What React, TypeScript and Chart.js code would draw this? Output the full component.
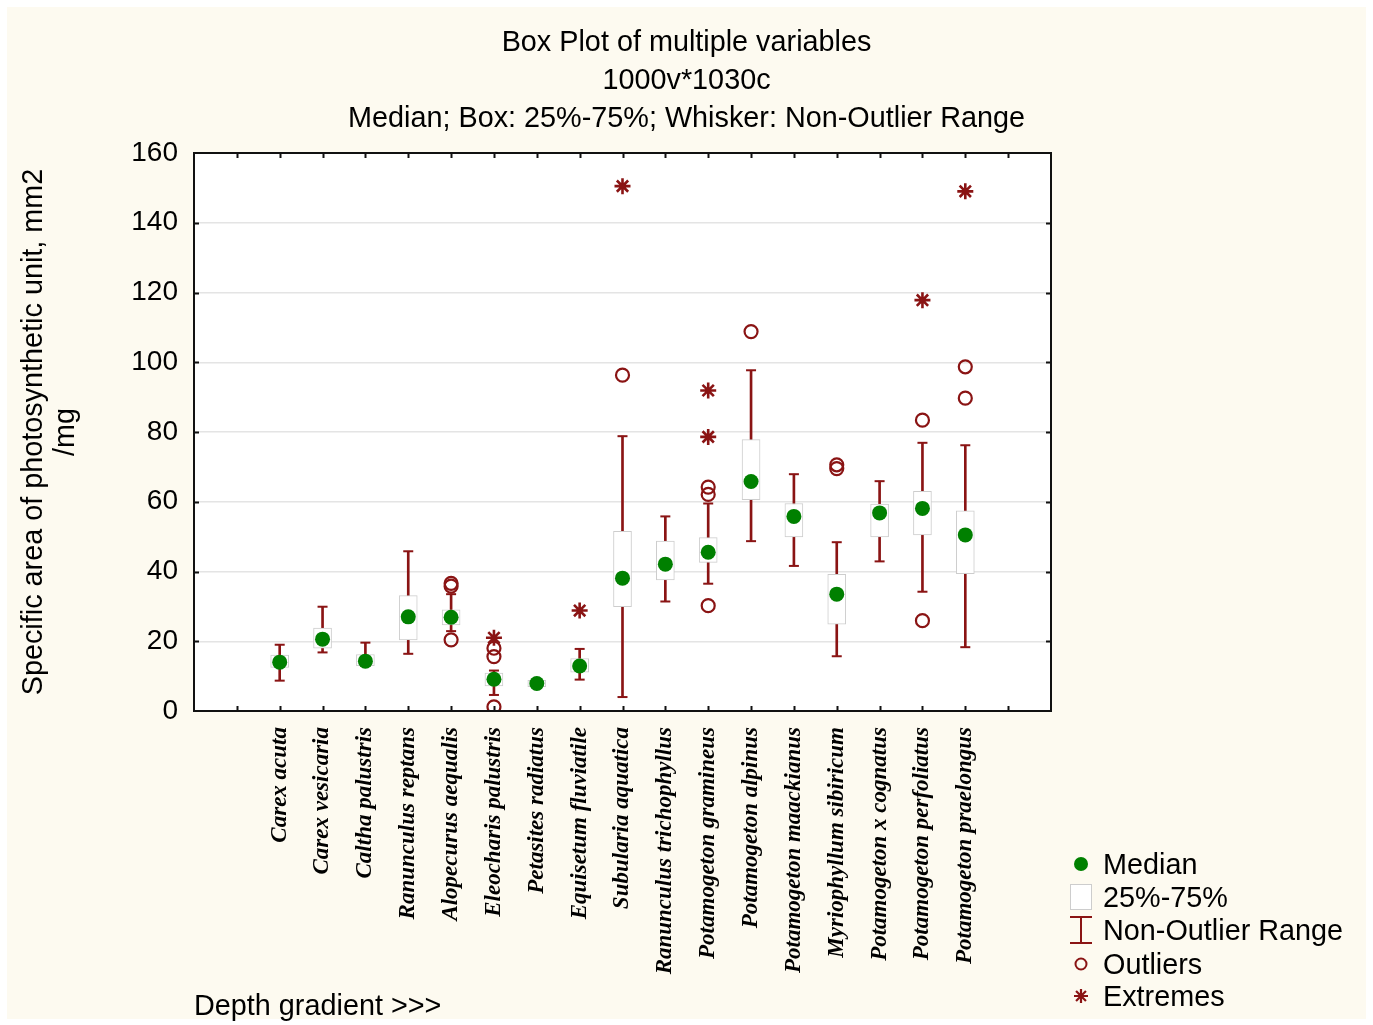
import { useEffect, useRef } from 'react';
import { Chart, registerables } from 'chart.js';

Chart.register(...registerables);

// ---------- data ----------
const species = [
  'Carex acuta',
  'Carex vesicaria',
  'Caltha palustris',
  'Ranunculus reptans',
  'Alopecurus aequalis',
  'Eleocharis palustris',
  'Petasites radiatus',
  'Equisetum fluviatile',
  'Subularia aquatica',
  'Ranunculus trichophyllus',
  'Potamogeton gramineus',
  'Potamogeton alpinus',
  'Potamogeton maackianus',
  'Myriophyllum sibiricum',
  'Potamogeton x cognatus',
  'Potamogeton perfoliatus',
  'Potamogeton praelongus',
];

const medians = [14.0, 20.6, 14.3, 27.0, 26.9, 9.1, 7.9, 12.9, 38.1, 42.1, 45.5, 65.8, 55.8, 33.5, 56.8, 58.1, 50.5];
const q1 = [12.5, 18.0, 13.0, 20.4, 24.7, 7.2, 7.0, 11.1, 29.9, 37.6, 42.6, 60.6, 49.9, 24.9, 49.9, 50.5, 39.4];
const q3 = [16.0, 23.8, 16.2, 33.1, 29.0, 10.9, 8.8, 15.0, 51.5, 48.7, 49.7, 77.8, 59.5, 39.2, 59.3, 63.0, 57.4];
const whiskerLow = [8.7, 16.8, 13.0, 16.4, 22.9, 4.6, 6.8, 9.0, 4.0, 31.4, 36.5, 48.7, 41.6, 15.7, 42.9, 34.2, 18.3];
const whiskerHigh = [19.0, 29.9, 19.6, 45.8, 33.5, 11.6, 9.0, 17.8, 78.8, 55.8, 59.5, 97.7, 67.9, 48.4, 65.9, 76.9, 76.2];

const outlierSpecies = [
  'Alopecurus aequalis', 'Alopecurus aequalis', 'Alopecurus aequalis',
  'Eleocharis palustris', 'Eleocharis palustris', 'Eleocharis palustris',
  'Subularia aquatica',
  'Potamogeton gramineus', 'Potamogeton gramineus', 'Potamogeton gramineus',
  'Potamogeton alpinus',
  'Myriophyllum sibiricum', 'Myriophyllum sibiricum',
  'Potamogeton perfoliatus', 'Potamogeton perfoliatus',
  'Potamogeton praelongus', 'Potamogeton praelongus',
];
const outlierValues = [
  36.6, 35.8, 20.4,
  18.0, 15.6, 1.2,
  96.3,
  64.2, 62.1, 30.2,
  108.8,
  70.6, 69.5,
  83.4, 25.9,
  98.7, 89.7,
];

const extremeSpecies = [
  'Eleocharis palustris',
  'Equisetum fluviatile',
  'Subularia aquatica',
  'Potamogeton gramineus', 'Potamogeton gramineus',
  'Potamogeton perfoliatus',
  'Potamogeton praelongus',
];
const extremeValues = [21.0, 28.8, 150.5, 91.9, 78.6, 117.8, 149.0];

const titleLines = [
  'Box Plot of multiple variables',
  '1000v*1030c',
  'Median; Box: 25%-75%; Whisker: Non-Outlier Range',
];
const yTitleLines = ['Specific area of photosynthetic unit, mm2', '/mg'];
const xTitle = 'Depth gradient >>>';
const legendLabels = ['Median', '25%-75%', 'Non-Outlier Range', 'Outliers', 'Extremes'];

// ---------- styles ----------
const SANS = '"Liberation Sans", Arial, Helvetica, sans-serif';
const SERIF = '"Liberation Serif", "Times New Roman", serif';
const DARK_RED = '#8a1414';
const GREEN = '#008000';
const BOX_BORDER = '#cdcdcd';
const W = 1373;
const H = 1025;

export default function App() {
  const ref = useRef<HTMLCanvasElement>(null);

  useEffect(() => {
    const canvas = ref.current;
    if (!canvas) return;

    const xLabels = ['', '', ...species, '', ''];

    const bgPlugin = {
      id: 'bgPlugin',
      beforeDraw(chart: any) {
        const { ctx, chartArea } = chart;
        ctx.save();
        ctx.fillStyle = '#ffffff';
        ctx.fillRect(0, 0, W, H);
        ctx.fillStyle = '#fdfaf0';
        ctx.fillRect(7, 7, W - 14, H - 13);
        ctx.fillStyle = '#ffffff';
        ctx.fillRect(chartArea.left, chartArea.top, chartArea.right - chartArea.left, chartArea.bottom - chartArea.top);
        ctx.restore();
      },
    };

    const framePlugin = {
      id: 'framePlugin',
      afterDatasetsDraw(chart: any) {
        const { ctx, chartArea } = chart;
        const { left, right, top, bottom } = chartArea;
        const xs = chart.scales.x;
        const ys = chart.scales.y;
        ctx.save();
        ctx.strokeStyle = '#111111';
        ctx.lineWidth = 2;
        ctx.beginPath();
        for (let i = 1; i < xLabels.length - 1; i++) {
          const px = Math.round(xs.getPixelForValue(i)) + 0.5;
          ctx.moveTo(px, bottom);
          ctx.lineTo(px, bottom - 5);
          ctx.moveTo(px, top);
          ctx.lineTo(px, top + 5);
        }
        for (let v = 20; v < 160; v += 20) {
          const py = Math.round(ys.getPixelForValue(v)) + 0.5;
          ctx.moveTo(left, py);
          ctx.lineTo(left + 5, py);
          ctx.moveTo(right, py);
          ctx.lineTo(right - 5, py);
        }
        ctx.stroke();
        ctx.strokeRect(left, top, right - left, bottom - top);
        ctx.restore();
      },
    };

    const legendPlugin = {
      id: 'boxLegend',
      afterDraw(chart: any) {
        const { ctx } = chart;
        const sx = 1081;
        const rows = [864, 897, 930, 964, 996];
        ctx.save();
        // Median
        ctx.fillStyle = GREEN;
        ctx.beginPath();
        ctx.arc(sx, rows[0], 7, 0, Math.PI * 2);
        ctx.fill();
        // Box
        ctx.fillStyle = '#ffffff';
        ctx.fillRect(1070.5, rows[1] - 12.5, 21, 25);
        ctx.strokeStyle = BOX_BORDER;
        ctx.lineWidth = 1;
        ctx.strokeRect(1070.5, rows[1] - 12.5, 21, 25);
        // Whisker
        ctx.strokeStyle = DARK_RED;
        ctx.lineWidth = 2;
        ctx.beginPath();
        ctx.moveTo(1070, rows[2] - 13);
        ctx.lineTo(1092, rows[2] - 13);
        ctx.moveTo(sx, rows[2] - 13);
        ctx.lineTo(sx, rows[2] + 13);
        ctx.moveTo(1070, rows[2] + 13);
        ctx.lineTo(1092, rows[2] + 13);
        ctx.stroke();
        // Outlier
        ctx.beginPath();
        ctx.arc(sx, rows[3], 5.5, 0, Math.PI * 2);
        ctx.stroke();
        // Extreme (asterisk)
        ctx.beginPath();
        const r = 7;
        const d = r * Math.SQRT1_2;
        ctx.lineWidth = 2.2;
        ctx.moveTo(sx - r, rows[4]);
        ctx.lineTo(sx + r, rows[4]);
        ctx.moveTo(sx, rows[4] - r);
        ctx.lineTo(sx, rows[4] + r);
        ctx.moveTo(sx - d, rows[4] - d);
        ctx.lineTo(sx + d, rows[4] + d);
        ctx.moveTo(sx - d, rows[4] + d);
        ctx.lineTo(sx + d, rows[4] - d);
        ctx.stroke();
        // Labels
        ctx.fillStyle = '#000000';
        ctx.font = `28.8px ${SANS}`;
        ctx.textAlign = 'left';
        ctx.textBaseline = 'middle';
        legendLabels.forEach((t, i) => ctx.fillText(t, 1103, rows[i] + 2));
        ctx.restore();
      },
    };

    const chart = new Chart(canvas, {
      type: 'bar',
      data: {
        labels: xLabels,
        datasets: [
          {
            type: 'bar',
            label: 'Non-Outlier Range',
            data: species.map((s, i) => ({ x: s, y: [whiskerLow[i], whiskerHigh[i]] })) as any,
            backgroundColor: DARK_RED,
            borderWidth: 0,
            barThickness: 2,
            grouped: false,
            order: 5,
          },
          {
            type: 'bar',
            label: '25%-75%',
            data: species.map((s, i) => ({ x: s, y: [q1[i], q3[i]] })) as any,
            backgroundColor: '#ffffff',
            borderColor: BOX_BORDER,
            borderWidth: 1,
            borderSkipped: false,
            barThickness: 18,
            grouped: false,
            order: 4,
          },
          {
            type: 'line',
            label: 'Whisker caps',
            data: [
              ...species.map((s, i) => ({ x: s, y: whiskerLow[i] })),
              ...species.map((s, i) => ({ x: s, y: whiskerHigh[i] })),
            ] as any,
            showLine: false,
            pointStyle: 'line',
            pointRadius: 5,
            pointBorderWidth: 2,
            borderColor: DARK_RED,
            pointBorderColor: DARK_RED,
            order: 3,
          },
          {
            type: 'line',
            label: 'Median',
            data: species.map((s, i) => ({ x: s, y: medians[i] })) as any,
            showLine: false,
            pointStyle: 'circle',
            pointRadius: 7.5,
            pointBackgroundColor: GREEN,
            pointBorderColor: GREEN,
            pointBorderWidth: 0,
            order: 2,
          },
          {
            type: 'line',
            label: 'Outliers',
            data: outlierSpecies.map((s, i) => ({ x: s, y: outlierValues[i] })) as any,
            showLine: false,
            pointStyle: 'circle',
            pointRadius: 6.5,
            pointBackgroundColor: 'rgba(0,0,0,0)',
            pointBorderColor: DARK_RED,
            pointBorderWidth: 2.2,
            order: 1,
          },
          {
            type: 'line',
            label: 'Extremes',
            data: extremeSpecies.map((s, i) => ({ x: s, y: extremeValues[i] })) as any,
            showLine: false,
            pointStyle: 'star',
            pointRadius: 8,
            pointBorderColor: DARK_RED,
            pointBorderWidth: 2.6,
            order: 0,
          },
        ],
      },
      options: {
        responsive: false,
        devicePixelRatio: 1,
        animation: false,
        events: [],
        layout: { padding: 0 },
        plugins: {
          legend: { display: false },
          tooltip: { enabled: false },
          title: {
            display: true,
            text: titleLines,
            color: '#000000',
            font: { family: SANS, size: 28.8, weight: 'normal', lineHeight: '38px' },
            padding: { top: 24, bottom: 15 },
          },
        },
        scales: {
          x: {
            type: 'category',
            offset: false,
            grid: { display: false, drawTicks: false },
            border: { display: false },
            ticks: {
              autoSkip: false,
              minRotation: 90,
              maxRotation: 90,
              padding: 16,
              color: '#000000',
              font: { family: SERIF, size: 23, style: 'italic', weight: 'bold' },
            },
            title: {
              display: true,
              text: xTitle,
              align: 'start',
              color: '#000000',
              font: { family: SANS, size: 28.8, lineHeight: 1.2 },
              padding: { top: 0, bottom: 1 },
            },
            afterFit: (s: any) => {
              s.height = 314;
            },
          },
          y: {
            type: 'linear',
            min: 0,
            max: 160,
            grid: { color: '#e4e4e4', lineWidth: 1.5, drawTicks: false },
            border: { display: false },
            ticks: {
              stepSize: 20,
              padding: 16,
              color: '#000000',
              font: { family: SANS, size: 28 },
            },
            title: {
              display: true,
              text: yTitleLines,
              color: '#000000',
              font: { family: SANS, size: 28.8, lineHeight: '32px' },
              padding: { top: 18, bottom: 0 },
            },
            afterFit: (s: any) => {
              s.width = 194;
            },
          },
          y2: {
            type: 'linear',
            position: 'right',
            min: 0,
            max: 160,
            grid: { display: false, drawTicks: false },
            border: { display: false },
            ticks: { display: false, stepSize: 20 },
            afterFit: (s: any) => {
              s.width = 322;
            },
          },
        },
      } as any,
      plugins: [bgPlugin, framePlugin, legendPlugin],
    });

    return () => {
      chart.destroy();
    };
  }, []);

  return (
    <div style={{ position: 'absolute', left: 0, top: 0, width: W, height: H }}>
      <canvas ref={ref} width={W} height={H} style={{ display: 'block', width: W, height: H }} />
    </div>
  );
}
